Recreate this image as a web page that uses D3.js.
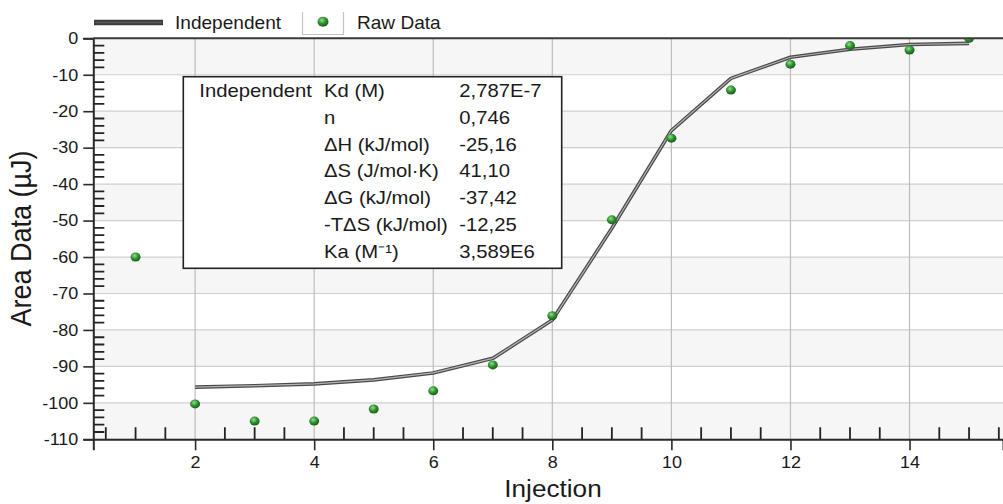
<!DOCTYPE html>
<html>
<head>
<meta charset="utf-8">
<script src="https://cdn.jsdelivr.net/npm/d3@7"></script>
<style>
  body { margin: 0; background: #fff; }
  svg { display: block; font-family: "Liberation Sans", Arial, sans-serif; }
</style>
</head>
<body>
<svg id="chart" width="1003" height="504"></svg>
<script>
// raw injection heats
const injections = [1, 2, 3, 4, 5, 6, 7, 8, 9, 10, 11, 12, 13, 14, 15];
const rawData = [-60, -100.3, -105, -105, -101.7, -96.7, -89.6, -76.1, -49.8, -27.4, -14.2, -7.1, -2.0, -3.2, 0.0];

// independent model fit
const fitX = [2, 3, 4, 5, 6, 7, 8, 9, 10, 11, 12, 13, 14, 15];
const fitData = [-95.7, -95.3, -94.8, -93.7, -91.8, -87.8, -77.3, -52.1, -25.3, -11.0, -5.2, -3.0, -1.7, -1.4];

const yTicks = [0, -10, -20, -30, -40, -50, -60, -70, -80, -90, -100, -110];
const xTicks = [2, 4, 6, 8, 10, 12, 14];

const paramNames = ['Kd (M)', 'n', 'ΔH (kJ/mol)', 'ΔS (J/mol·K)', 'ΔG (kJ/mol)', '-TΔS (kJ/mol)', 'Ka (M⁻¹)'];
const paramValues = ['2,787E-7', '0,746', '-25,16', '41,10', '-37,42', '-12,25', '3,589E6'];

const svg = d3.select('#chart');
const margin = { top: 38.3, right: 0, bottom: 64.7, left: 93.3 };
const W = 1003, H = 504;
const SX = 1.09; // text looks slightly stretched sideways

const x = d3.scaleLinear().domain([0.29, 15.57]).range([margin.left, W - margin.right]);
const y = d3.scaleLinear().domain([-110, 0]).range([H - margin.bottom, margin.top]);

const txt = (sel, px, py, s, size, anchor) => sel.append('text')
    .attr('transform', `translate(${px},${py}) scale(${SX},1)`)
    .attr('font-size', size)
    .attr('text-anchor', anchor || 'start')
    .attr('fill', '#1a1a1a')
    .text(s);

// clip to plot area
svg.append('defs').append('clipPath').attr('id', 'plotClip')
    .append('rect')
    .attr('x', x.range()[0]).attr('y', y.range()[1])
    .attr('width', x.range()[1] - x.range()[0])
    .attr('height', y.range()[0] - y.range()[1]);

const grad = svg.select('defs').append('radialGradient')
    .attr('id', 'ball').attr('cx', '40%').attr('cy', '35%').attr('r', '65%');
grad.append('stop').attr('offset', '0%').attr('stop-color', '#8ee08a');
grad.append('stop').attr('offset', '55%').attr('stop-color', '#2f8f2f');
grad.append('stop').attr('offset', '100%').attr('stop-color', '#1a5e1a');

const plot = svg.append('g').attr('clip-path', 'url(#plotClip)');

// alternating bands
const bandStarts = d3.range(0, -110, -20);
plot.selectAll('.band').data(bandStarts).join('rect')
    .attr('x', x.range()[0])
    .attr('y', d => y(d))
    .attr('width', x.range()[1] - x.range()[0])
    .attr('height', d => y(d - 10) - y(d))
    .attr('fill', '#f6f6f6');

// grid
plot.selectAll('.hgrid').data(yTicks).join('line')
    .attr('x1', x.range()[0]).attr('x2', x.range()[1])
    .attr('y1', d => y(d)).attr('y2', d => y(d))
    .attr('stroke', '#cfcfcf').attr('stroke-width', 1.2);
plot.selectAll('.vgrid').data(xTicks).join('line')
    .attr('x1', d => x(d)).attr('x2', d => x(d))
    .attr('y1', y.range()[0]).attr('y2', y.range()[1])
    .attr('stroke', '#bdbdbd').attr('stroke-width', 1.2);

// minor ticks, pointing inward
const yMinor = d3.range(-108, 0, 2).filter(v => v % 10 !== 0);
plot.selectAll('.ym').data(yMinor).join('line')
    .attr('x1', x.range()[0]).attr('x2', x.range()[0] + 11)
    .attr('y1', d => y(d)).attr('y2', d => y(d))
    .attr('stroke', '#222').attr('stroke-width', 1.8);
const xMinor = d3.range(0.5, 15.6, 0.5).filter(v => v % 2 !== 0);
plot.selectAll('.xm').data(xMinor).join('line')
    .attr('x1', d => x(d)).attr('x2', d => x(d))
    .attr('y1', y.range()[0]).attr('y2', y.range()[0] - 12)
    .attr('stroke', '#222').attr('stroke-width', 1.8);

// fit line: dark tube with lighter core
const line = d3.line().x((d, i) => x(fitX[i])).y(d => y(d));
plot.append('path').datum(fitData)
    .attr('fill', 'none').attr('stroke', '#4a4a4a').attr('stroke-width', 3.6)
    .attr('stroke-linejoin', 'round').attr('d', line);
plot.append('path').datum(fitData)
    .attr('fill', 'none').attr('stroke', '#b4b4b4').attr('stroke-width', 1.2)
    .attr('stroke-linejoin', 'round').attr('d', line);

// raw points
plot.selectAll('.pt').data(rawData).join('ellipse')
    .attr('cx', (d, i) => x(injections[i]))
    .attr('cy', d => y(d))
    .attr('rx', 5).attr('ry', 4.5)
    .attr('fill', 'url(#ball)');

// axes
const yAxis = svg.append('g')
    .attr('transform', `translate(${x.range()[0]},0)`)
    .call(d3.axisLeft(y).tickValues(yTicks).tickSize(10).tickPadding(5).tickFormat(d => String(d)));
const xAxis = svg.append('g')
    .attr('transform', `translate(0,${y.range()[0]})`)
    .call(d3.axisBottom(x).tickValues(xTicks).tickSize(11).tickPadding(6).tickFormat(d => String(d)));

[yAxis, xAxis].forEach(a => {
    a.select('.domain').attr('stroke', '#2a2a2a').attr('stroke-width', 2);
    a.selectAll('.tick line').attr('stroke', '#2a2a2a').attr('stroke-width', 1.6);
    a.selectAll('.tick text')
        .attr('font-size', 16.5)
        .attr('font-family', '"Liberation Sans", Arial, sans-serif')
        .attr('fill', '#1a1a1a');
});
yAxis.selectAll('.tick text').attr('x', -15 / SX).attr('transform', `scale(${SX},1)`);
xAxis.selectAll('.tick text').attr('transform', `scale(${SX},1)`);

// top frame
svg.append('line')
    .attr('x1', x.range()[0]).attr('x2', x.range()[1])
    .attr('y1', y.range()[1]).attr('y2', y.range()[1])
    .attr('stroke', '#3a3a3a').attr('stroke-width', 2);

// axis titles
svg.append('text')
    .attr('transform', `translate(31,238.5) scale(${SX},1) rotate(-90)`)
    .attr('text-anchor', 'middle')
    .attr('font-size', 27)
    .attr('fill', '#1a1a1a')
    .text('Area Data (µJ)');
txt(svg, 553, 497, 'Injection', 24, 'middle');

// legend
const leg = svg.append('g');
leg.append('line')
    .attr('x1', 94).attr('x2', 163).attr('y1', 22.5).attr('y2', 22.5)
    .attr('stroke', '#3c3c3c').attr('stroke-width', 5.5);
leg.append('line')
    .attr('x1', 95).attr('x2', 162).attr('y1', 22.5).attr('y2', 22.5)
    .attr('stroke', '#5a5a5a').attr('stroke-width', 1.5);
txt(leg, 175, 28.5, 'Independent', 17.5);
leg.append('path')
    .attr('d', 'M302.5,12 V34.5 H343.5 V12')
    .attr('fill', 'none').attr('stroke', '#c4c4c4').attr('stroke-width', 1.2);
leg.append('ellipse')
    .attr('cx', 323).attr('cy', 21.7).attr('rx', 5.5).attr('ry', 5)
    .attr('fill', 'url(#ball)');
txt(leg, 357, 28.5, 'Raw Data', 17.5);

// parameter table
const box = { x0: 183.3, y0: 76.7, x1: 561.7, y1: 268.3 };
const rowH = 26.9, firstBase = 96.7;
const tab = svg.append('g');
tab.append('rect')
    .attr('x', box.x0).attr('y', box.y0)
    .attr('width', box.x1 - box.x0).attr('height', box.y1 - box.y0)
    .attr('fill', '#fff').attr('stroke', '#222').attr('stroke-width', 1.6);
txt(tab, 199.3, firstBase, 'Independent', 18.6);
paramNames.forEach((s, i) => txt(tab, 324, firstBase + i * rowH, s, 18.6));
paramValues.forEach((s, i) => txt(tab, 459.3, firstBase + i * rowH, s, 18.6));
</script>
</body>
</html>
